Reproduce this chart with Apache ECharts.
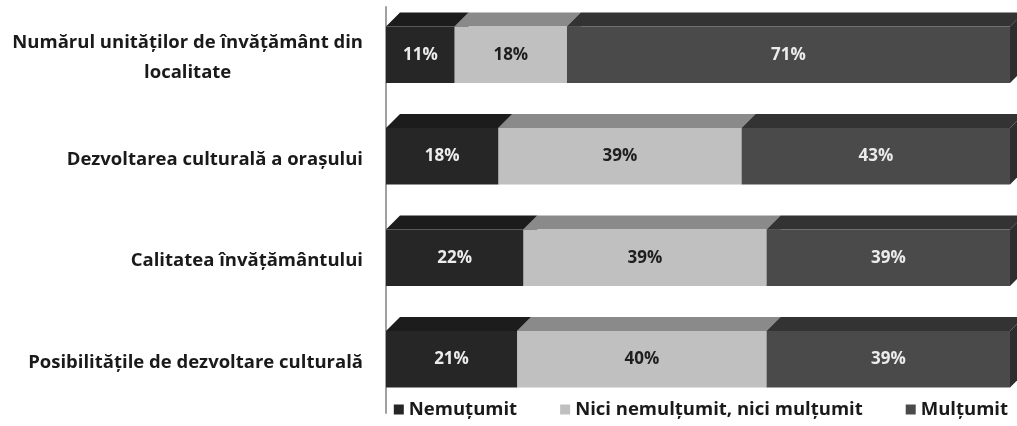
<!DOCTYPE html>
<html>
<head>
<meta charset="utf-8">
<script src="https://cdn.jsdelivr.net/npm/echarts@6/dist/echarts.min.js"></script>
<style>
	html, body { margin: 0; padding: 0; background: #fff; }
	#chart { width: 1017px; height: 426px; }
</style>
</head>
<body>
<div id="chart"></div>
<script>
	var categories = [
		'Numărul unităților de învățământ din\nlocalitate',
		'Dezvoltarea culturală a orașului',
		'Calitatea învățământului',
		'Posibilitățile de dezvoltare culturală'
	];
	var seriesNames = ['Nemuțumit', 'Nici nemulțumit, nici mulțumit', 'Mulțumit'];
	var nemultumit = [11, 18, 22, 21];
	var neutru = [18, 39, 39, 40];
	var multumit = [71, 43, 39, 39];

	// front, top, side colours per series
	var faces = [
		{ front: '#262626', top: '#1c1c1c', side: '#1a1a1a', text: '#ececec' },
		{ front: '#c0c0c0', top: '#8a8a8a', side: '#8a8a8a', text: '#1e1e1e' },
		{ front: '#4a4a4a', top: '#333333', side: '#2e2e2e', text: '#ececec' }
	];

	var values = [nemultumit, neutru, multumit];
	var depth = 14;
	var labelFont = 'Open Sans';

	function makeData(idx) {
		var out = [];
		for (var i = 0; i < categories.length; i++) {
			var start = 0;
			for (var k = 0; k < idx; k++) start += values[k][i];
			out.push([start, start + values[idx][i], i, values[idx][i]]);
		}
		return out;
	}

	function renderItem(idx) {
		return function (params, api) {
			var cat = api.value(2);
			var p0 = api.coord([api.value(0), cat]);
			var p1 = api.coord([api.value(1), cat]);
			var band = api.size([0, 1])[1];
			var h = band * 0.555;
			var cy = p0[1] - 3;
			var yTop = cy - h / 2, yBot = cy + h / 2;
			var x0 = p0[0], x1 = p1[0];
			var c = faces[idx];
			return {
				type: 'group',
				children: [
					{
						type: 'polygon',
						shape: { points: [[x1, yTop], [x1 + depth, yTop - depth], [x1 + depth, yBot - depth], [x1, yBot]] },
						style: { fill: c.side }
					},
					{
						type: 'polygon',
						shape: { points: [[x0, yTop], [x0 + depth, yTop - depth], [x1 + depth, yTop - depth], [x1, yTop]] },
						style: { fill: c.top }
					},
					{
						type: 'rect',
						shape: { x: x0, y: yTop, width: x1 - x0, height: h },
						style: { fill: c.front }
					},
					{
						type: 'text',
						x: (x0 + x1) / 2,
						y: cy,
						style: {
							text: api.value(3) + '%',
							fill: c.text,
							font: 'bold 17px "Open Sans"',
							align: 'center',
							verticalAlign: 'middle'
						}
					}
				]
			};
		};
	}

	// category labels; the two-line one is centred line by line
	var axisData = categories.map(function (name) {
		if (name.indexOf('\n') < 0) return name;
		var ctx = document.createElement('canvas').getContext('2d');
		ctx.font = 'bold 18.5px "' + labelFont + '"';
		var w = Math.max.apply(null, name.split('\n').map(function (l) { return ctx.measureText(l).width; }));
		return { value: name, textStyle: { align: 'center', padding: [8, w, 0, 0] } };
	});

	var myChart = echarts.init(document.getElementById('chart'));
	var series = [];
	for (var s = 0; s < seriesNames.length; s++) {
		series.push({
			name: seriesNames[s],
			type: 'custom',
			renderItem: renderItem(s),
			encode: { x: [0, 1], y: 2 },
			itemStyle: { color: faces[s].front },
			data: makeData(s)
		});
	}

	var option = {
		animation: false,
		grid: { left: 386, right: 7, top: 7, bottom: 13 },
		legend: {
			data: seriesNames,
			bottom: 2,
			right: 4,
			itemWidth: 10,
			itemHeight: 10,
			itemGap: 43,
			icon: 'rect',
			textStyle: { fontFamily: labelFont, fontWeight: 'bold', fontSize: 18.5, color: '#1a1a1a' }
		},
		xAxis: {
			type: 'value',
			min: 0,
			max: 100,
			show: false
		},
		yAxis: {
			type: 'category',
			data: axisData,
			inverse: true,
			offset: 3,
			axisLine: { show: true, lineStyle: { color: '#a0a0a0', width: 2 } },
			axisTick: { show: false },
			axisLabel: {
				margin: 20,
				fontFamily: labelFont,
				fontWeight: 'bold',
				fontSize: 18.5,
				color: '#1a1a1a',
				align: 'right',
				lineHeight: 30
			}
		},
		series: series
	};
	myChart.setOption(option);
</script>
</body>
</html>
